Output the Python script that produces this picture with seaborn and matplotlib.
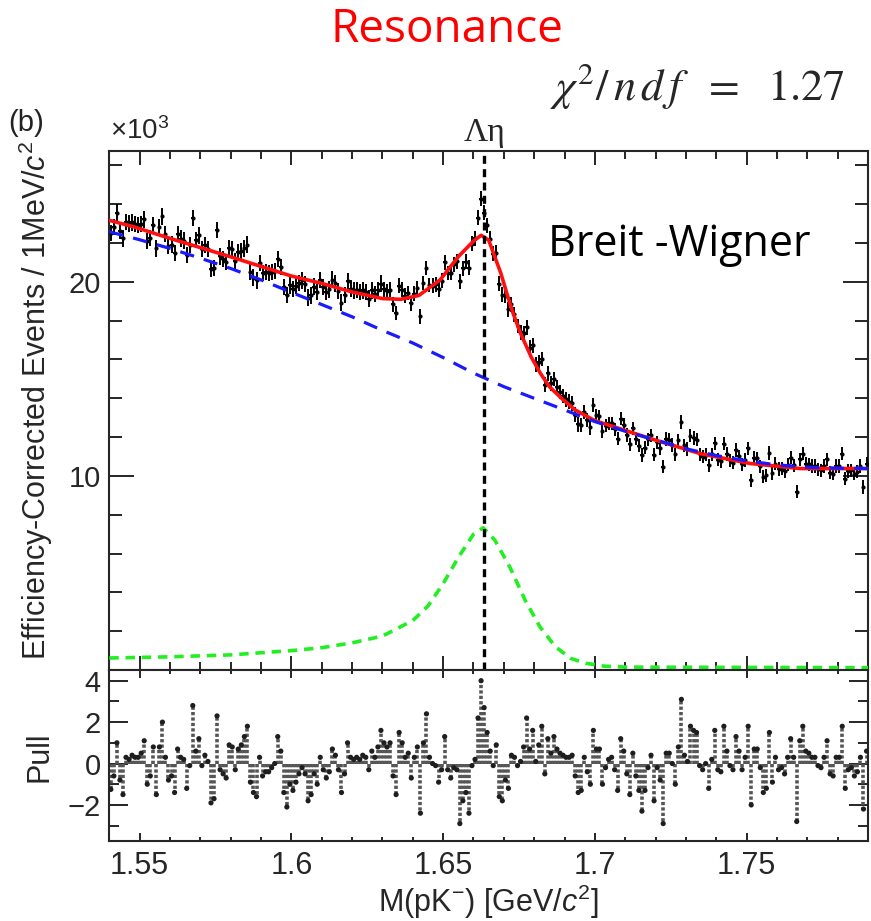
import numpy as np
import matplotlib
matplotlib.use("Agg")
import matplotlib.pyplot as plt
from matplotlib.ticker import MultipleLocator, FixedLocator
import seaborn as sns

# ---------------- data ----------------
# 1 MeV bins from 1.540 to 1.790 GeV (bin centres)
n_bins = 250
mass = 1.5405 + 0.001 * np.arange(n_bins)

# efficiency-corrected events per bin, in units of 10^3
counts = [
    22.53, 22.81, 23.57, 22.63, 22.24, 23.10, 23.00, 23.06, 22.97, 22.92,
    22.97, 23.22, 22.12, 22.27, 22.92, 21.72, 22.82, 23.37, 22.47, 21.87,
    21.92, 21.47, 22.47, 22.23, 22.13, 21.38, 21.89, 23.29, 22.14, 22.39,
    21.69, 21.90, 21.70, 20.65, 20.70, 22.66, 21.31, 21.16, 21.01, 21.76,
    21.67, 21.07, 21.52, 21.57, 21.72, 21.92, 20.52, 20.22, 20.07, 20.97,
    20.47, 20.52, 20.47, 20.52, 20.57, 21.17, 20.77, 19.72, 19.32, 19.82,
    19.63, 19.79, 19.95, 20.07, 19.88, 19.19, 19.30, 19.76, 19.48, 20.09,
    19.75, 19.50, 19.61, 20.12, 19.92, 19.53, 18.93, 19.34, 20.05, 19.65,
    19.56, 19.58, 19.49, 19.56, 19.48, 19.14, 19.56, 19.37, 19.59, 19.91,
    19.61, 19.51, 19.59, 18.84, 18.40, 19.81, 19.59, 19.29, 19.42, 18.89,
    19.39, 19.66, 18.23, 19.94, 20.72, 19.84, 19.81, 19.88, 19.62, 20.06,
    21.01, 20.46, 20.47, 20.91, 21.06, 20.02, 20.69, 21.04, 20.73, 21.97,
    22.25, 23.31, 24.28, 23.57, 22.91, 22.22, 21.46, 21.51, 19.91, 19.34,
    19.28, 18.59, 18.84, 18.33, 17.72, 17.40, 17.36, 17.66, 16.61, 16.74,
    15.76, 15.86, 16.03, 14.71, 15.28, 14.77, 14.99, 14.56, 14.32, 14.12,
    13.95, 13.82, 13.75, 13.15, 12.66, 12.63, 13.29, 12.88, 12.51, 13.65,
    13.13, 13.08, 12.30, 12.59, 12.72, 12.71, 12.40, 11.92, 12.95, 12.64,
    12.11, 11.63, 12.45, 11.91, 11.56, 11.08, 11.46, 11.88, 12.09, 11.10,
    11.73, 11.44, 10.48, 11.90, 11.86, 11.59, 11.11, 11.83, 12.78, 11.57,
    11.39, 12.07, 11.95, 11.86, 11.12, 10.99, 11.09, 10.54, 11.12, 11.69,
    10.83, 10.76, 11.67, 11.13, 10.80, 10.68, 11.34, 11.01, 10.59, 10.82,
    11.43, 9.77, 10.92, 10.90, 10.49, 9.97, 10.03, 11.18, 10.13, 10.63,
    10.36, 10.38, 10.23, 10.57, 10.94, 10.54, 9.19, 10.85, 11.15, 10.64,
    10.60, 10.51, 10.51, 10.34, 10.29, 10.51, 10.85, 10.16, 10.12, 10.51,
    10.51, 11.15, 9.86, 10.25, 10.29, 10.12, 10.21, 10.51, 9.43, 10.64,
]

# statistical error per bin (10^3 events)
count_err = [0.42] * 90 + [0.38] * 70 + [0.34] * 90

# pull per bin
pulls = [
    -1.25, -0.6, 1.0, -0.8, -1.5, 0.3, 0.2, 0.4, 0.3, 0.3,
    0.5, 1.1, -1.0, -0.6, 0.8, -1.5, 0.8, 2.0, 0.3, -0.8,
    -0.6, -1.4, 0.7, 0.3, 0.2, -1.2, -0.1, 2.8, 0.6, 1.2,
    -0.1, 0.4, 0.1, -1.9, -1.7, 2.3, -0.3, -0.5, -0.7, 0.9,
    0.8, -0.3, 0.7, 0.9, 1.3, 1.8, -0.9, -1.4, -1.6, 0.3,
    -0.6, -0.4, -0.4, -0.2, 0.0, 1.3, 0.6, -1.4, -2.1, -1.0,
    -1.3, -0.9, -0.5, -0.2, -0.5, -1.8, -1.5, -0.5, -1.0, 0.3,
    -0.3, -0.7, -0.4, 0.7, 0.4, -0.3, -1.4, -0.5, 1.0, 0.3,
    0.2, 0.3, 0.2, 0.4, 0.3, -0.3, 0.6, 0.3, 0.8, 1.6,
    1.0, 0.8, 1.0, -0.6, -1.5, 1.5, 1.0, 0.3, 0.5, -0.7,
    0.3, 0.8, -2.4, 1.0, 2.4, 0.3, 0.0, -0.1, -0.9, -0.3,
    1.3, -0.3, -0.7, -0.2, -0.3, -2.9, -1.8, -1.4, -2.4, -0.1,
    0.2, 2.2, 4.0, 2.7, 1.5, 0.6, -0.1, 0.9, -1.6, -1.8,
    -0.8, -1.2, 0.4, 0.3, -0.1, 0.1, 0.8, 2.2, 0.7, 1.6,
    0.1, 0.9, 1.8, -0.5, 1.2, 0.5, 1.3, 0.7, 0.5, 0.4,
    0.3, 0.3, 0.4, -0.6, -1.4, -1.3, 0.3, -0.4, -1.0, 1.6,
    0.7, 0.7, -1.0, -0.2, 0.2, 0.3, -0.3, -1.3, 1.2, 0.6,
    -0.5, -1.5, 0.5, -0.6, -1.3, -2.3, -1.3, -0.2, 0.4, -1.8,
    -0.2, -0.8, -2.9, 0.5, 0.5, 0.0, -1.0, 0.8, 3.1, 0.4,
    0.1, 1.8, 1.6, 1.5, -0.1, -0.3, 0.0, -1.2, 0.2, 1.6,
    -0.3, -0.4, 1.8, 0.6, -0.1, -0.3, 1.3, 0.6, -0.3, 0.3,
    1.8, -2.0, 0.7, 0.7, -0.2, -1.4, -1.2, 1.5, -0.9, 0.3,
    -0.3, -0.2, -0.5, 0.3, 1.2, 0.3, -2.8, 1.1, 1.8, 0.6,
    0.5, 0.3, 0.3, -0.1, -0.2, 0.3, 1.1, -0.5, -0.6, 0.3,
    0.3, 1.8, -1.2, -0.3, -0.2, -0.6, -0.4, 0.3, -2.2, 0.6,
]

# total fit (red), sampled along the curve
fit_x = [1.540, 1.548, 1.560, 1.580, 1.600, 1.610, 1.620, 1.630, 1.636,
         1.642, 1.649, 1.655, 1.660, 1.6625, 1.665, 1.667, 1.669, 1.671,
         1.673, 1.6755, 1.679, 1.682, 1.685, 1.689, 1.6935, 1.700,
         1.7182, 1.7347, 1.7512, 1.7677, 1.790]
fit_y = [23.17, 22.84, 22.24, 21.29, 20.30, 19.92, 19.48, 19.14, 19.10,
         19.30, 20.10, 21.30, 22.10, 22.40, 22.15, 21.30, 20.45, 19.40,
         18.40, 17.35, 16.13, 15.30, 14.60, 14.00, 13.40, 12.85,
         11.93, 11.15, 10.64, 10.38, 10.38]

# background (blue dashed)
bkg_x = [1.54, 1.55, 1.56, 1.57, 1.58, 1.59, 1.60, 1.61, 1.62, 1.63, 1.64,
         1.65, 1.66, 1.67, 1.68, 1.69, 1.70, 1.71, 1.72, 1.73, 1.74, 1.75,
         1.76, 1.77, 1.78, 1.79]
bkg_y = [22.58, 22.17, 21.72, 21.22, 20.69, 20.10, 19.46, 18.83, 18.20,
         17.50, 16.85, 16.10, 15.30, 14.60, 14.00, 13.40, 12.80, 12.30,
         11.85, 11.40, 11.05, 10.78, 10.57, 10.45, 10.40, 10.38]

# Breit-Wigner signal (green dashed)
sig_x = [1.540, 1.560, 1.580, 1.600, 1.610, 1.620, 1.630, 1.640, 1.645,
         1.650, 1.655, 1.660, 1.6632, 1.667, 1.672, 1.677, 1.682, 1.687,
         1.692, 1.697, 1.703, 1.710, 1.790]
sig_y = [0.62, 0.68, 0.78, 1.00, 1.15, 1.40, 1.75, 2.55, 3.30,
         4.45, 5.80, 7.00, 7.33, 6.70, 5.30, 3.60, 2.20, 1.20,
         0.60, 0.35, 0.20, 0.15, 0.12]

threshold = 1.6635  # Lambda eta threshold

# ---------------- style ----------------
sns.set_theme(style="ticks")
plt.rcParams["font.family"] = ["Liberation Sans", "DejaVu Sans"]
plt.rcParams["mathtext.fontset"] = "custom"
plt.rcParams["mathtext.rm"] = "Liberation Sans"
plt.rcParams["mathtext.it"] = "Liberation Sans:italic"
plt.rcParams["mathtext.bf"] = "Liberation Sans:bold"
plt.rcParams["axes.linewidth"] = 1.5

fig = plt.figure(figsize=(8.71, 9.21), dpi=100)
ax = fig.add_axes([0.1255, 0.2725, 0.8711, 0.5635])
axp = fig.add_axes([0.1255, 0.0869, 0.8711, 0.1857], sharex=ax)

# ---------------- top panel ----------------
ax.errorbar(mass, counts, yerr=count_err, xerr=0.0006, fmt="o", ms=2.0,
            color="black", ecolor="black", elinewidth=1.4, capsize=0, zorder=3)
sns.lineplot(x=fit_x, y=fit_y, ax=ax, color="#ff1010", linewidth=2.6,
             estimator=None, sort=False, zorder=4)
sns.lineplot(x=bkg_x, y=bkg_y, ax=ax, color="#1a1aff", linewidth=2.3,
             estimator=None, sort=False, zorder=5)
ax.lines[-1].set_dashes([4.5, 3.2])
sns.lineplot(x=sig_x, y=sig_y, ax=ax, color="#22ee22", linewidth=2.6,
             estimator=None, sort=False, zorder=5)
ax.lines[-1].set_dashes([2.6, 1.9])
ax.axvline(threshold, color="black", linewidth=2.4, linestyle=(0, (2.4, 1.6)), zorder=6)

ax.set_xlim(1.54, 1.79)
ax.set_ylim(0, 26.74)
ax.yaxis.set_major_locator(FixedLocator([10, 20]))
ax.yaxis.set_minor_locator(MultipleLocator(2))
ax.xaxis.set_major_locator(MultipleLocator(0.05))
ax.xaxis.set_minor_locator(MultipleLocator(0.01))
ax.tick_params(which="both", direction="in", top=True, right=True,
               labelbottom=False, color="black", width=1.2)
ax.tick_params(axis="x", which="major", length=10)
ax.tick_params(axis="x", which="minor", length=5.5)
ax.tick_params(axis="y", which="major", length=18, labelsize=21, pad=6)
ax.tick_params(axis="y", which="minor", length=9.5)
ax.set_ylabel("Efficiency-Corrected Events / 1MeV/$c^2$", fontsize=22)
ax.yaxis.set_label_coords(-0.072, 0.52)
ax.set_xlabel("")

# ---------------- pull panel ----------------
axp.vlines(mass, 0, pulls, colors="#555555", linewidth=2.6,
           linestyles=(0, (0.9, 0.6)), zorder=2)
sns.scatterplot(x=mass, y=pulls, ax=axp, color="#1e1e1e", s=14,
                edgecolor="none", zorder=3)
axp.set_ylim(-3.74, 4.52)
axp.yaxis.set_major_locator(FixedLocator([-2, 0, 2, 4]))
axp.yaxis.set_minor_locator(MultipleLocator(1))
axp.set_yticklabels(["\u22122", "0", "2", "4"])
axp.xaxis.set_minor_locator(MultipleLocator(0.01))
axp.set_xticks([1.55, 1.60, 1.65, 1.70, 1.75])
axp.set_xticklabels(["1.55", "1.6", "1.65", "1.7", "1.75"])
axp.set_xlim(1.54, 1.79)
axp.tick_params(which="both", direction="in", top=True, right=True,
                color="black", width=1.2)
axp.tick_params(axis="x", which="major", length=6, labelsize=22, pad=7)
axp.tick_params(axis="x", which="minor", length=3)
axp.tick_params(axis="y", which="major", length=14, labelsize=21, pad=6)
axp.tick_params(axis="y", which="minor", length=7)
axp.set_ylabel("Pull", fontsize=22)
axp.yaxis.set_label_coords(-0.072, 0.49)
axp.set_xlabel("M(pK$^{-}$) [GeV/$c^2$]", fontsize=22)
axp.xaxis.set_label_coords(0.499, -0.245)

# ---------------- annotations ----------------
fig.text(0.513, 0.967, "Resonance", color="red", fontsize=33,
         family="Open Sans", ha="center", va="center")
fig.text(0.970, 0.891, r"$\chi^{2}/\,n\,d\,f\ \ =\ \ 1.27$", fontsize=32,
         math_fontfamily="stix", ha="right", va="baseline")
fig.text(0.7796, 0.734, "Breit -Wigner", fontsize=31, family="Open Sans",
         ha="center", va="center", color="black")
fig.text(0.010, 0.866, "(b)", fontsize=21, va="center", color="#222222")
fig.text(0.1263, 0.8425, "\u00d710$^{3}$", fontsize=20, ha="left", va="bottom")
fig.text(0.5557, 0.8556, "\u039b\u03b7", family="Liberation Serif", fontsize=24,
         ha="center", va="center")

fig.savefig("out.png", dpi=100)
